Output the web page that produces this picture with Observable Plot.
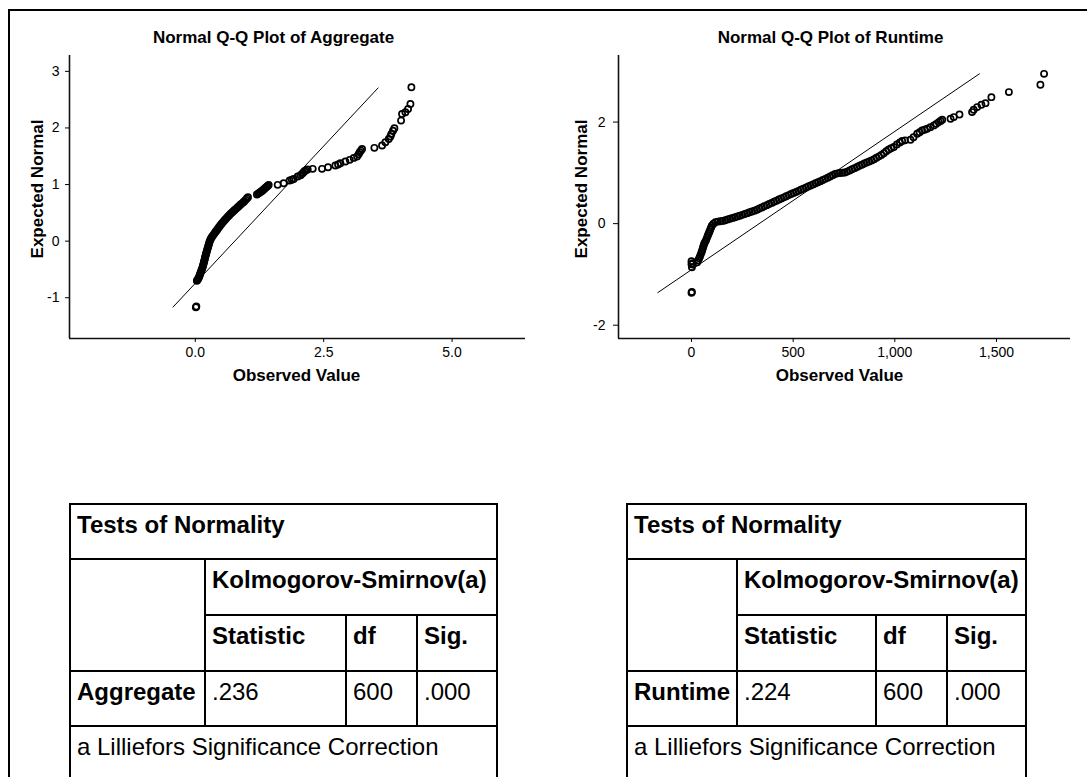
<!DOCTYPE html>
<html><head><meta charset="utf-8">
<script src="https://cdn.jsdelivr.net/npm/d3@7"></script>
<script src="https://cdn.jsdelivr.net/npm/@observablehq/plot@0.6"></script>
<style>
html,body{margin:0;padding:0;background:#fff;}
#page{position:relative;width:1087px;height:777px;overflow:hidden;background:#fff;font-family:"Liberation Sans",Arial,Helvetica,sans-serif;color:#000;}
.ln{position:absolute;background:#000;}
.cell{position:absolute;font-size:24px;line-height:28px;white-space:nowrap;}
.b{font-weight:bold;}
#page svg [aria-label$="tick label"]{font-size:14px;}
#page svg [aria-label$="tick label"] text{font-size:14px;}
</style></head><body><div id="page"></div>
<script>
// ---------- Data ----------
const aggTitle = "Normal Q-Q Plot of Aggregate";
const runTitle = "Normal Q-Q Plot of Runtime";
const xAxisTitle = "Observed Value";
const yAxisTitle = "Expected Normal";

const aggXDomain = [-2.45, 6.43];
const aggYDomain = [-1.72, 3.28];
const aggXTicks = [0, 2.5, 5];
const aggXTickLabels = ["0.0", "2.5", "5.0"];
const aggYTicks = [-1, 0, 1, 2, 3];
const aggYTickLabels = ["-1", "0", "1", "2", "3"];
const aggLineX = [-0.434, 3.559];
const aggLineY = [-1.165, 2.707];
// [observed value, expected normal]
const aggPoints = [
 [0.01,-1.17],[0.02,-1.155],
 [0.03,-0.70],[0.045,-0.68],[0.06,-0.66],[0.07,-0.64],[0.08,-0.615],[0.09,-0.59],[0.10,-0.565],[0.11,-0.54],
 [0.12,-0.515],[0.13,-0.49],[0.14,-0.465],[0.148,-0.44],[0.156,-0.415],[0.163,-0.39],[0.17,-0.365],[0.177,-0.34],
 [0.184,-0.315],[0.19,-0.29],[0.197,-0.265],[0.205,-0.24],[0.212,-0.215],[0.22,-0.19],[0.228,-0.165],[0.236,-0.14],
 [0.244,-0.115],[0.252,-0.09],[0.26,-0.065],[0.268,-0.04],[0.276,-0.015],[0.286,0.01],[0.298,0.035],[0.312,0.058],
 [0.326,0.078],[0.342,0.098],[0.36,0.12],[0.377,0.142],[0.395,0.165],[0.415,0.19],[0.435,0.215],[0.456,0.24],
 [0.478,0.267],[0.50,0.293],[0.521,0.317],[0.543,0.341],[0.565,0.365],[0.588,0.389],[0.612,0.412],[0.636,0.436],
 [0.661,0.459],[0.687,0.483],[0.714,0.506],[0.740,0.528],[0.766,0.55],[0.792,0.571],[0.820,0.595],[0.848,0.618],
 [0.877,0.642],[0.903,0.663],[0.930,0.685],[0.955,0.706],[0.980,0.73],[1.003,0.753],[1.026,0.777],
 [1.20,0.824],[1.225,0.84],[1.248,0.855],[1.27,0.868],[1.29,0.882],[1.31,0.897],[1.33,0.912],[1.352,0.93],
 [1.374,0.948],[1.396,0.965],[1.414,0.98],[1.429,0.995],
 [1.604,0.995],[1.721,1.024],[1.838,1.071],[1.88,1.085],[1.916,1.10],[1.994,1.142],[2.05,1.165],[2.078,1.189],
 [2.10,1.21],[2.124,1.236],[2.15,1.25],[2.188,1.265],[2.286,1.277],[2.468,1.277],[2.585,1.306],[2.727,1.336],
 [2.78,1.355],[2.825,1.377],[2.922,1.406],[3.007,1.436],[3.085,1.471],[3.15,1.495],[3.18,1.535],[3.201,1.571],
 [3.225,1.60],[3.247,1.63],[3.487,1.648],[3.637,1.689],[3.702,1.748],[3.767,1.806],[3.80,1.85],[3.818,1.895],
 [3.85,1.95],[3.877,1.995],[4.007,2.13],[4.026,2.248],[4.091,2.277],[4.143,2.336],[4.189,2.424],[4.208,2.718]
];

const runXDomain = [-359, 1864];
const runYDomain = [-2.262, 3.311];
const runXTicks = [0, 500, 1000, 1500];
const runXTickLabels = ["0", "500", "1,000", "1,500"];
const runYTicks = [-2, 0, 2];
const runYTickLabels = ["-2", "0", "2"];
const runLineX = [-165.6, 1416];
const runLineY = [-1.358, 2.95];
const runPoints = [
 [0,-1.36],[2,-1.345],
 [0,-0.74],[0,-0.80],[2,-0.86],[6,-0.78],
 [28,-0.76],[33,-0.72],[38,-0.68],[42,-0.64],[46,-0.60],[50,-0.56],[53,-0.52],[56,-0.48],[59,-0.44],[62,-0.40],
 [67,-0.36],[72,-0.32],[76,-0.28],[80,-0.24],[84,-0.20],[88,-0.16],[92,-0.12],[96,-0.08],[100,-0.04],[108,0.0],[118,0.03],
 [130,0.04],[142,0.047],[154,0.054],[166,0.068],[178,0.083],[190,0.098],[202,0.113],[214,0.127],[226,0.142],
 [238,0.157],[250,0.173],[262,0.19],[274,0.206],[286,0.223],[298,0.24],[310,0.256],[322,0.275],[334,0.298],
 [346,0.32],[358,0.342],[370,0.364],[382,0.386],[394,0.408],[406,0.43],[418,0.452],[430,0.474],[442,0.496],
 [454,0.518],[466,0.54],[478,0.562],[490,0.583],[502,0.604],[514,0.625],[526,0.646],[538,0.668],[550,0.689],
 [562,0.71],[574,0.731],[586,0.752],[598,0.773],[610,0.794],[622,0.816],[634,0.837],[646,0.858],[658,0.882],
 [670,0.906],[682,0.93],[694,0.955],[706,0.978],[718,0.99],[730,0.996],[742,1.001],[754,1.007],[766,1.025],
 [778,1.048],[790,1.07],[802,1.093],[814,1.117],[826,1.14],[838,1.162],[850,1.184],[862,1.206],[874,1.226],
 [886,1.245],[898,1.268],[910,1.296],[922,1.325],[934,1.354],[946,1.388],[958,1.424],[970,1.46],[982,1.484],[995,1.508],
 [1010,1.56],[1025,1.60],[1036,1.626],[1050,1.64],[1077,1.652],[1092,1.70],[1110,1.77],[1122,1.80],[1134,1.836],
 [1146,1.85],[1159,1.868],[1175,1.90],[1192,1.934],[1204,1.965],[1216,1.999],[1225,2.02],[1233,2.045],
 [1274,2.065],[1290,2.098],[1318,2.15],[1380,2.196],[1388,2.242],[1405,2.295],[1426,2.34],[1446,2.373],
 [1475,2.491],[1561,2.59],[1716,2.734],[1734,2.95]
];

const tableTitle = "Tests of Normality";
const testName = "Kolmogorov-Smirnov(a)";
const statCols = ["Statistic", "df", "Sig."];
const tableVars = ["Aggregate", "Runtime"];
const tableStats = [[".236", "600", ".000"], [".224", "600", ".000"]];
const tableNote = "a Lilliefors Significance Correction";

// ---------- Drawing ----------
const FONT = '"Liberation Sans", Arial, Helvetica, sans-serif';
const page = document.getElementById("page");

function line(x, y, w, h) {
  const d = document.createElement("div");
  d.className = "ln";
  Object.assign(d.style, {left: x + "px", top: y + "px", width: w + "px", height: h + "px"});
  page.appendChild(d);
}
function txt(s, x, y, bold) {
  const d = document.createElement("div");
  d.className = "cell" + (bold ? " b" : "");
  d.textContent = s;
  Object.assign(d.style, {left: x + "px", top: y + "px"});
  page.appendChild(d);
}

// outer frame (top and left)
line(8, 9, 1079, 2);
line(8, 9, 2, 768);

function qq(o) {
  const data = o.points.map(p => ({x: p[0], y: p[1]}));
  const ref = o.lineX.map((v, i) => ({x: v, y: o.lineY[i]}));
  const svg = Plot.plot({
    width: 540, height: 400,
    marginLeft: o.ml, marginRight: 15, marginTop: 55, marginBottom: 62,
    x: {domain: o.xDomain},
    y: {domain: o.yDomain},
    style: {fontFamily: FONT, fontSize: "14px", color: "#000", background: "transparent", overflow: "visible"},
    marks: [
      Plot.ruleX([o.xDomain[0]], {stroke: "#111", strokeWidth: 1.6}),
      Plot.ruleY([o.yDomain[0]], {stroke: "#111", strokeWidth: 1.6}),
      Plot.axisX(o.xTicks, {tickSize: 4, tickPadding: 5, label: null, fontSize: 14,
        tickFormat: d => o.xLabels[o.xTicks.indexOf(d)]}),
      Plot.axisY(o.yTicks, {tickSize: o.yts, tickPadding: o.ytp, label: null, fontSize: 14,
        tickFormat: d => o.yLabels[o.yTicks.indexOf(d)]}),
      Plot.line(ref, {x: "x", y: "y", stroke: "#000", strokeWidth: 1}),
      Plot.dot(data, {x: "x", y: "y", r: 3.1, stroke: "#000", strokeWidth: 1.7, fill: "none"}),
      Plot.text([o.title], {text: d => d, frameAnchor: "top", dx: o.tdx, dy: -18, fontWeight: "bold", fontSize: 17, textAnchor: "middle", lineAnchor: "middle"}),
      Plot.text([xAxisTitle], {text: d => d, frameAnchor: "bottom", dx: o.xldx, dy: 37, fontWeight: "bold", fontSize: 17, textAnchor: "middle", lineAnchor: "middle"}),
      Plot.text([yAxisTitle], {text: d => d, frameAnchor: "left", dx: o.yldx, dy: -8, rotate: -90, fontWeight: "bold", fontSize: 17, textAnchor: "middle", lineAnchor: "middle"})
    ]
  });
  svg.style.position = "absolute";
  svg.style.left = o.left + "px";
  svg.style.top = "0px";
  page.appendChild(svg);
}

qq({points: aggPoints, xDomain: aggXDomain, yDomain: aggYDomain, xTicks: aggXTicks, xLabels: aggXTickLabels,
    yTicks: aggYTicks, yLabels: aggYTickLabels, lineX: aggLineX, lineY: aggLineY, title: aggTitle,
    left: 0, ml: 69, yts: 4, ytp: 6, tdx: -24, xldx: -1, yldx: -32});
qq({points: runPoints, xDomain: runXDomain, yDomain: runYDomain, xTicks: runXTicks, xLabels: runXTickLabels,
    yTicks: runYTicks, yLabels: runYTickLabels, lineX: runLineX, lineY: runLineY, title: runTitle,
    left: 545, ml: 73, yts: 5, ytp: 8, tdx: -14, xldx: -5, yldx: -37});

function table(xs, k) {
  const ys = [503, 558, 614, 670, 725];
  const right = xs[4] + 2;
  line(xs[0], ys[0], right - xs[0], 2);
  line(xs[0], ys[1], right - xs[0], 2);
  line(xs[1], ys[2], right - xs[1], 2);
  line(xs[0], ys[3], right - xs[0], 2);
  line(xs[0], ys[4], right - xs[0], 2);
  line(xs[0], ys[0], 2, 300);
  line(xs[4], ys[0], 2, 300);
  line(xs[1], ys[1], 2, ys[4] - ys[1] + 2);
  line(xs[2], ys[2], 2, ys[4] - ys[2] + 2);
  line(xs[3], ys[2], 2, ys[4] - ys[2] + 2);
  const pad = 8, top = 8;
  txt(tableTitle, xs[0] + pad, ys[0] + top, true);
  txt(testName, xs[1] + pad, ys[1] + top, true);
  statCols.forEach((c, i) => txt(c, xs[1 + i] + pad, ys[2] + top, true));
  txt(tableVars[k], xs[0] + pad, ys[3] + top, true);
  tableStats[k].forEach((v, i) => txt(v, xs[1 + i] + pad, ys[3] + top, false));
  txt(tableNote, xs[0] + pad, ys[4] + top, false);
}
table([69, 204, 345, 416, 496], 0);
table([626, 736, 875, 946, 1025], 1);
</script></body></html>
